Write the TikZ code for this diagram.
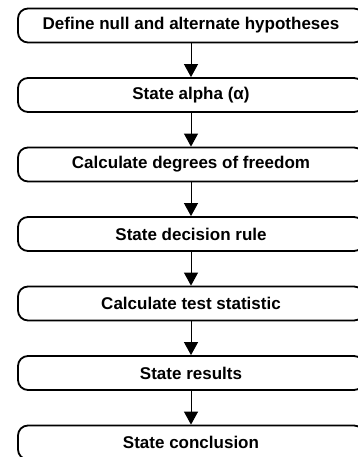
\documentclass[tikz,border=0pt]{standalone}
\usepackage{fontspec}
\setmainfont{Liberation Sans}
\usetikzlibrary{positioning,arrows.meta}

\tikzset{
    stepbox/.style={draw, line width=1.8pt, rounded corners=10pt,
        minimum width=346pt, minimum height=34pt, inner sep=0pt,
        font=\fontsize{17}{19}\selectfont\bfseries},
    flow/.style={-{Triangle[width=14pt,length=13pt]}, line width=1pt}
}

\begin{document}
\begin{tikzpicture}[node distance=33.7pt]
        \path[use as bounding box, clip] (0,0) rectangle (358pt,-457pt);
        \node[stepbox] (define) at (191pt,-25.5pt) {Define null and alternate hypotheses};
        \node[stepbox, below=of define] (alpha) {State alpha (α)};
        \node[stepbox, below=of alpha] (freedom) {Calculate degrees of freedom};
        \node[stepbox, below=of freedom] (rule) {State decision rule};
        \node[stepbox, below=of rule] (statistic) {Calculate test statistic};
        \node[stepbox, below=of statistic] (results) {State results};
        \node[stepbox, below=of results] (conclusion) {State conclusion};
        \foreach \a/\b in {define/alpha, alpha/freedom, freedom/rule,
            rule/statistic, statistic/results, results/conclusion}
            {
                \draw[flow] (\a) -- (\b);
            }
    \end{tikzpicture}
\end{document}
